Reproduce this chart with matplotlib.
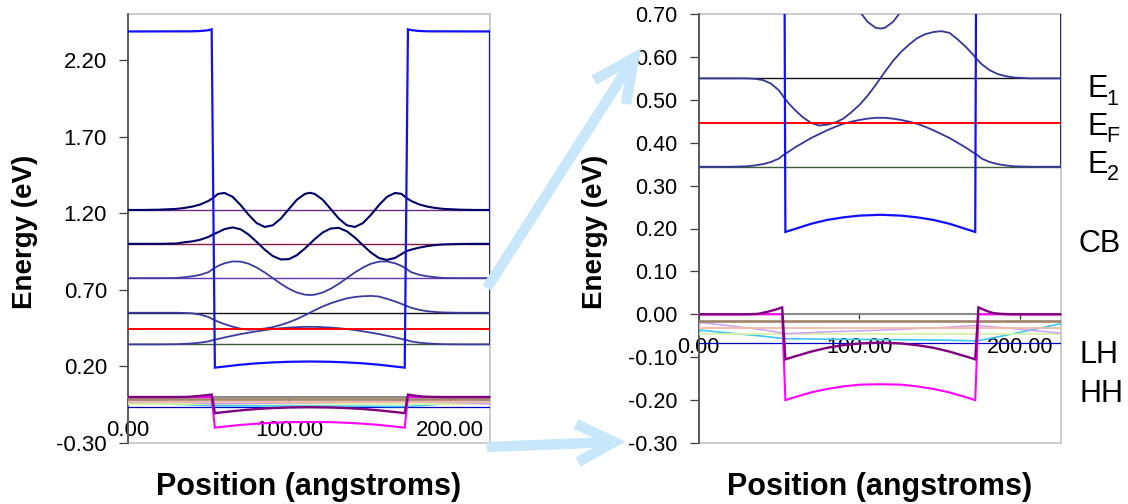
import matplotlib
matplotlib.use("Agg")
import matplotlib.pyplot as plt
from matplotlib.lines import Line2D
from matplotlib.patches import Rectangle
from matplotlib.ticker import FormatStrFormatter

plt.rcParams['font.family'] = ['Liberation Sans', 'DejaVu Sans']
plt.rcParams['axes.unicode_minus'] = False

# ---------------- band-structure data (energy in eV, position in angstroms) ----------------
# conduction band edge
CB_X = [0, 40, 45, 50, 52, 54, 60, 70, 80, 90, 100, 113, 126, 136, 146, 156, 166, 172,
        174, 176, 180, 186, 225]
CB_E = [2.386, 2.387, 2.389, 2.394, 2.400, 0.192, 0.199, 0.211, 0.220, 0.226, 0.230, 0.232,
        0.230, 0.226, 0.220, 0.211, 0.199, 0.192, 2.400, 2.395, 2.390, 2.387, 2.386]

# light-hole band edge
LH_X = [0, 30, 37, 43, 48, 52, 54, 60, 70, 80, 90, 100, 113, 126, 136, 146, 156, 166, 172,
        174, 179, 183, 188, 195, 225]
LH_E = [0.000, 0.000, 0.001, 0.006, 0.011, 0.016, -0.105, -0.098, -0.087, -0.078, -0.072,
        -0.068, -0.066, -0.068, -0.072, -0.078, -0.087, -0.098, -0.105, 0.016, 0.008, 0.003,
        0.001, 0.000, 0.000]

# heavy-hole band edge
HH_X = [0, 52, 54, 60, 70, 80, 90, 100, 113, 126, 136, 146, 156, 166, 172, 174, 225]
HH_E = [0.000, 0.000, -0.200, -0.193, -0.182, -0.174, -0.168, -0.164, -0.163, -0.164, -0.168,
        -0.174, -0.182, -0.193, -0.200, 0.000, 0.000]

# remaining valence-band traces
SO_X = [0, 225]
SO_E = [-0.015, -0.015]
PEACH_X = [0, 225]
PEACH_E = [-0.031, -0.031]
LAV_X = [0, 1, 20, 40, 54, 80, 113, 150, 173, 195, 225]
LAV_E = [-0.036, -0.019, -0.027, -0.036, -0.045, -0.041, -0.037, -0.031, -0.026, -0.033, -0.044]
GREEN_X = [0, 225]
GREEN_E = [-0.046, -0.046]
CYAN_X = [0, 1, 20, 40, 54, 80, 113, 150, 173, 187, 205, 225]
CYAN_E = [-0.050, -0.037, -0.044, -0.051, -0.057, -0.058, -0.059, -0.060, -0.062, -0.052,
          -0.038, -0.022]
DEEP_X = [0, 225]
DEEP_E = [-0.068, -0.068]

# subband energies and Fermi level
LEVELS = [0.344, 0.550, 0.776, 1.000, 1.221]
E_FERMI = 0.446

# wavefunctions, drawn offset on their own subband energy
WF_X = [0, 10, 20, 30, 35, 40, 45, 50, 53, 56, 60, 65, 70, 75, 80, 85, 90, 95, 100, 105, 110,
        113, 116, 121, 126, 131, 136, 141, 146, 151, 156, 161, 166, 170, 173, 176, 181, 186,
        191, 196, 206, 216, 225]
WF1 = [0.344, 0.344, 0.344, 0.345, 0.347, 0.350, 0.355, 0.363, 0.372, 0.379, 0.389, 0.400,
       0.411, 0.420, 0.429, 0.437, 0.444, 0.449, 0.453, 0.456, 0.458, 0.458,
       0.458, 0.456, 0.453, 0.449, 0.444, 0.437, 0.429, 0.420, 0.411, 0.400, 0.389, 0.379,
       0.372, 0.363, 0.355, 0.350, 0.347, 0.345, 0.344, 0.344, 0.344]
WF2 = [0.550, 0.550, 0.550, 0.550, 0.549, 0.546, 0.538, 0.522, 0.506, 0.492, 0.476, 0.459,
       0.446, 0.440, 0.442, 0.447, 0.456, 0.471, 0.488, 0.509, 0.534, 0.550,
       0.566, 0.591, 0.612, 0.629, 0.644, 0.653, 0.658, 0.660, 0.656, 0.641, 0.624, 0.608,
       0.595, 0.583, 0.569, 0.560, 0.555, 0.552, 0.550, 0.550, 0.550]
WF3 = [0.776, 0.776, 0.776, 0.777, 0.782, 0.788, 0.798, 0.815, 0.837, 0.856, 0.873, 0.885,
       0.884, 0.870, 0.845, 0.813, 0.776, 0.739, 0.707, 0.682, 0.668, 0.666,
       0.668, 0.682, 0.707, 0.739, 0.776, 0.813, 0.845, 0.870, 0.884, 0.885, 0.873, 0.856,
       0.837, 0.815, 0.798, 0.788, 0.782, 0.777, 0.776, 0.776, 0.776]
WF4 = [1.000, 1.000, 1.000, 1.002, 1.010, 1.016, 1.027, 1.045, 1.062, 1.076, 1.096, 1.107,
       1.095, 1.060, 1.012, 0.962, 0.920, 0.898, 0.900, 0.926, 0.970, 1.000,
       1.030, 1.074, 1.100, 1.104, 1.082, 1.041, 0.991, 0.943, 0.907, 0.895, 0.908, 0.933,
       0.952, 0.962, 0.975, 0.985, 0.992, 0.996, 0.999, 1.000, 1.000]
WF5 = [1.221, 1.221, 1.223, 1.228, 1.234, 1.243, 1.257, 1.280, 1.300, 1.326, 1.332, 1.307,
       1.253, 1.189, 1.135, 1.110, 1.121, 1.165, 1.227, 1.288, 1.326, 1.333,
       1.326, 1.288, 1.227, 1.165, 1.121, 1.110, 1.135, 1.189, 1.253, 1.307, 1.332, 1.326,
       1.300, 1.280, 1.257, 1.243, 1.234, 1.228, 1.223, 1.221, 1.221]
WAVEFUNCTIONS = [WF1, WF2, WF3, WF4, WF5]

X_TICKS = [0, 100, 200]
FULL_YTICKS = [-0.30, 0.20, 0.70, 1.20, 1.70, 2.20]
ZOOM_YTICKS = [-0.30, -0.20, -0.10, 0.00, 0.10, 0.20, 0.30, 0.40, 0.50, 0.60, 0.70]
X_LABEL = 'Position (angstroms)'
Y_LABEL = 'Energy (eV)'

# ---------------- figure ----------------
W, H = 1128, 504
fig = plt.figure(figsize=(W / 100, H / 100), dpi=100)
fig.patch.set_facecolor('white')


def box(left, top, right, bottom):
    return [left / W, 1 - bottom / H, (right - left) / W, (bottom - top) / H]


def fx(x):
    return x / W


def fy(y):
    return 1 - y / H


LEVEL_COLORS = ['#3d5a35', '#121218', '#6035c0', '#8a1c44', '#6b2f80']
VB_STYLE = [
    (DEEP_X, DEEP_E, '#0000c8', 0.9),
    (CYAN_X, CYAN_E, '#3cc8f0', 1.2),
    (GREEN_X, GREEN_E, '#d9f2a6', 1.3),
    (LAV_X, LAV_E, '#c9a0f5', 1.1),
    (PEACH_X, PEACH_E, '#f5b7a8', 1.3),
    (SO_X, SO_E, '#a08268', 1.9),
    (HH_X, HH_E, '#ff00ff', 1.5),
    (LH_X, LH_E, '#800080', 1.7),
]


def draw_panel(ax, ylim, yticks, wf_colors, wf_widths, label_size):
    ax.set_xlim(0, 225)
    ax.set_ylim(*ylim)

    z = 3.0
    for xs, es, c, lw in VB_STYLE:
        ax.plot(xs, es, color=c, lw=lw, zorder=z, solid_joinstyle='miter')
        z += 0.05

    for lev, c in zip(LEVELS, LEVEL_COLORS):
        ax.plot([0, 225], [lev, lev], color=c, lw=1.0, zorder=4.0)

    for wf, c, lw in zip(WAVEFUNCTIONS, wf_colors, wf_widths):
        ax.plot(WF_X, wf, color=c, lw=lw, zorder=4.2)
    ax.plot([225, 225], [LEVELS[0], LEVELS[-1]], color='#1a1a70', lw=1.3, zorder=4.1)

    ax.plot([0, 225], [E_FERMI, E_FERMI], color='#ff0000', lw=1.4, zorder=4.4)

    ax.plot(CB_X, CB_E, color='#1010ff', lw=1.6, zorder=4.6, solid_joinstyle='miter')
    ax.plot([225, 225], [CB_E[-1], LEVELS[-1]], color='#1010ff', lw=1.6, zorder=4.6)

    # frame: dark value axis, grey plot-area border, category axis through zero
    ax.spines['top'].set_visible(False)
    ax.spines['right'].set_visible(False)
    ax.spines['left'].set_color('#3c3c3c')
    ax.spines['left'].set_linewidth(1.1)
    ax.spines['bottom'].set_position(('data', 0.0))
    ax.spines['bottom'].set_color('#8a8a8a')
    ax.spines['bottom'].set_linewidth(1.5)
    ax.add_patch(Rectangle((0, 0), 1, 1, transform=ax.transAxes, fill=False,
                           edgecolor='#bdbdbd', lw=1.1, zorder=2.4, clip_on=False))

    ax.set_xticks(X_TICKS)
    ax.xaxis.set_major_formatter(FormatStrFormatter('%.2f'))
    ax.tick_params(axis='x', direction='out', length=3.6, width=0.9, color='#303030',
                   pad=13, labelsize=label_size)
    ax.set_yticks(yticks)
    ax.yaxis.set_major_formatter(FormatStrFormatter('%.2f'))
    ax.tick_params(axis='y', direction='out', length=6.2, width=0.9, color='#3c3c3c',
                   pad=9, labelsize=label_size)


ax_full = fig.add_axes(box(128, 14, 490, 443))
draw_panel(ax_full, (-0.30, 2.50), FULL_YTICKS,
           ['#3b3b9e', '#3b3b9e', '#3b3b9e', '#000066', '#000066'],
           [1.3, 1.3, 1.3, 1.5, 1.5], 16)

ax_zoom = fig.add_axes(box(698.5, 14, 1060.5, 443))
draw_panel(ax_zoom, (-0.30, 0.70), ZOOM_YTICKS,
           ['#35359a'] * 5, [1.3] * 5, 15.5)

# axis titles
for cx in (25.3, 595.3):
    fig.text(fx(cx), fy(232), Y_LABEL, rotation=90, ha='center', va='center',
             fontsize=20, fontweight='bold')
for cx in (309, 879.5):
    fig.text(fx(cx), fy(495), X_LABEL, ha='center', va='baseline',
             fontsize=22, fontweight='bold')

# band labels beside the zoomed panel
side = [('E', '1', 96.7, 105), ('E', 'F', 135, 142), ('E', '2', 173.3, 180)]
for main, sub, base, sub_base in side:
    fig.text(fx(1087.6), fy(base), main, ha='left', va='baseline', fontsize=22)
    fig.text(fx(1106.5), fy(sub_base), sub, ha='left', va='baseline', fontsize=15.5)
for label, x0, base in [('CB', 1078.5, 251.7), ('LH', 1079.2, 363.3), ('HH', 1079.2, 401.7)]:
    fig.text(fx(x0), fy(base), label, ha='left', va='baseline', fontsize=22)

# light-blue pointers linking the full view to the zoomed window
ARROW_C = '#c8e7fa'
arrows = [
    ((487, 288), (634, 58), (594, 80), (626, 104)),
    ((487, 447), (614, 442), (576, 424), (578, 462)),
]
for tail, tip, w1, w2 in arrows:
    fig.add_artist(Line2D([fx(tail[0]), fx(tip[0])], [fy(tail[1]), fy(tip[1])],
                          color=ARROW_C, lw=7.5, solid_capstyle='butt',
                          transform=fig.transFigure))
    fig.add_artist(Line2D([fx(w1[0]), fx(tip[0]), fx(w2[0])],
                          [fy(w1[1]), fy(tip[1]), fy(w2[1])],
                          color=ARROW_C, lw=7.5, solid_capstyle='butt',
                          solid_joinstyle='miter', transform=fig.transFigure))

fig.savefig('out.png', dpi=100, facecolor='white')
